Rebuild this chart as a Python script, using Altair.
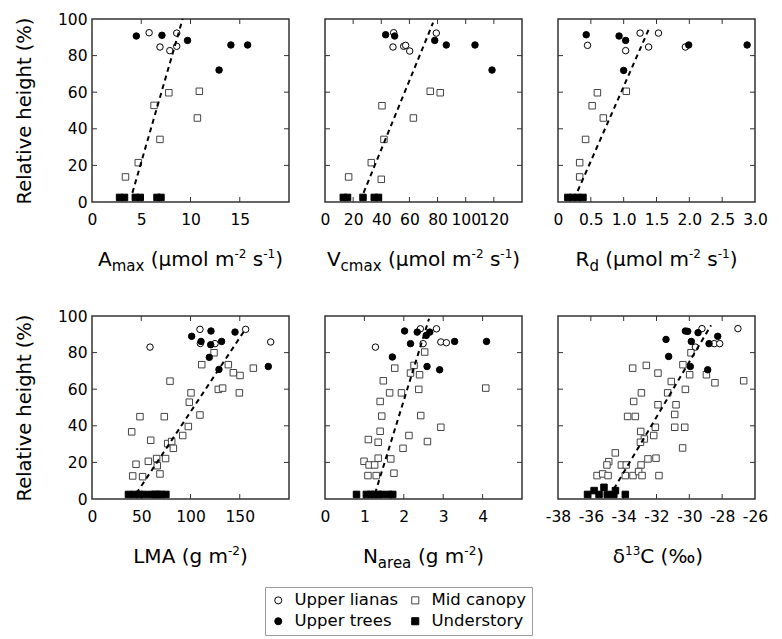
import altair as alt
import pandas as pd

GROUPS = ["Upper lianas", "Mid canopy", "Upper trees", "Understory"]

# ---------------- Amax ----------------
amax_lianas_x = [5.8, 8.6, 6.9, 7.9, 8.6]
amax_lianas_y = [92.5, 92.3, 84.7, 82.7, 85.1]
amax_mid_x = [3.4, 4.7, 6.3, 6.9, 7.8, 10.7, 10.9]
amax_mid_y = [13.7, 21.5, 52.8, 34.2, 59.7, 45.9, 60.5]
amax_trees_x = [4.5, 7.1, 9.7, 12.9, 14.1, 15.8]
amax_trees_y = [90.7, 91.1, 88.3, 72.1, 85.8, 85.8]
amax_under_x = [2.8, 3.3, 4.4, 4.9, 6.6, 7.0]
amax_under_y = [2.5, 2.5, 2.5, 2.5, 2.5, 2.5]
amax_fit_x = [4.1, 9.2]
amax_fit_y = [5, 100]

# ---------------- Vcmax ----------------
vcmax_lianas_x = [48.8, 48.3, 55.9, 57.3, 60.2, 79.1]
vcmax_lianas_y = [92.5, 84.7, 85.1, 85.6, 82.5, 92.3]
vcmax_mid_x = [16.8, 32.9, 40.0, 40.5, 41.9, 62.8, 74.8, 81.9]
vcmax_mid_y = [13.7, 21.5, 12.4, 52.6, 34.2, 45.9, 60.5, 59.7]
vcmax_trees_x = [43.1, 49.5, 78.0, 86.2, 106.6, 118.7]
vcmax_trees_y = [91.4, 90.7, 88.3, 85.8, 85.8, 72.1]
vcmax_under_x = [13, 16, 27, 35, 38]
vcmax_under_y = [2.5, 2.5, 2.5, 2.5, 2.5]
vcmax_fit_x = [27.4, 76.8]
vcmax_fit_y = [5, 98]

# ---------------- Rd ----------------
rd_lianas_x = [0.45, 1.03, 1.25, 1.38, 1.53, 1.94]
rd_lianas_y = [85.6, 82.7, 92.3, 84.7, 92.3, 84.7]
rd_mid_x = [0.33, 0.33, 0.42, 0.52, 0.60, 0.69, 1.04]
rd_mid_y = [13.7, 21.5, 34.2, 52.6, 59.7, 45.9, 60.5]
rd_trees_x = [0.43, 0.93, 1.03, 1.00, 1.99, 2.88]
rd_trees_y = [91.4, 90.7, 88.3, 71.9, 85.8, 85.8]
rd_under_x = [0.15, 0.22, 0.30, 0.38]
rd_under_y = [2.5, 2.5, 2.5, 2.5]
rd_fit_x = [0.30, 1.39]
rd_fit_y = [6, 95]

# ---------------- LMA ----------------
lma_lianas_x = [58.9, 109.6, 110.0, 124.9, 156.0, 181.4]
lma_lianas_y = [83.0, 92.7, 85.0, 84.9, 92.7, 85.8]
lma_mid_x = [40.3, 44.7, 41.3, 48.7, 51.4, 57.2, 59.6, 65.6, 66.3, 69.0,
             73.4, 74.7, 76.8, 80.9, 82.6, 79.2, 92.1, 97.8, 98.8, 100.5,
             109.6, 111.4, 123.9, 128.2, 132.6, 138.4, 143.5, 150.3, 149.6, 163.8]
lma_mid_y = [36.7, 19.0, 12.6, 45.0, 12.2, 20.6, 32.1, 22.1, 18.2, 13.7,
             45.0, 22.1, 30.3, 31.4, 27.7, 64.4, 34.7, 39.6, 52.9, 58.0,
             45.9, 73.4, 79.9, 59.9, 60.6, 73.4, 69.0, 67.5, 58.0, 71.5]
lma_trees_x = [101.2, 110.7, 120.8, 120.5, 119.1, 131.6, 128.9, 145.2, 179.0]
lma_trees_y = [88.9, 86.1, 91.8, 84.3, 77.4, 86.1, 70.8, 91.2, 72.4]
lma_under_x = [37, 43, 48, 53, 60, 64, 67, 70, 75]
lma_under_y = [2.5, 2.5, 2.5, 2.5, 2.5, 2.5, 2.5, 2.5, 2.5]
lma_fit_x = [45, 156]
lma_fit_y = [3, 93]

# ---------------- Narea ----------------
narea_lianas_x = [1.28, 2.42, 2.83, 2.49, 2.94, 3.08]
narea_lianas_y = [83.0, 93.0, 93.0, 84.9, 85.8, 85.4]
narea_mid_x = [2.53, 1.77, 2.26, 2.17, 2.40, 1.48, 1.64, 1.94, 2.38, 1.40,
               1.44, 2.43, 1.40, 1.10, 1.35, 2.13, 2.94, 1.98, 2.60, 0.99,
               1.12, 1.26, 1.35, 1.67, 1.09, 1.30, 1.75, 4.08]
narea_mid_y = [80.3, 71.5, 73.0, 68.8, 67.9, 64.6, 58.0, 58.0, 59.9, 53.3,
               45.3, 45.6, 37.0, 32.5, 31.0, 34.7, 39.2, 27.7, 31.4, 20.6,
               18.6, 18.6, 22.3, 21.9, 12.8, 12.8, 14.1, 60.6]
narea_trees_x = [2.02, 2.34, 2.66, 2.57, 2.17, 1.71, 2.59, 2.91, 3.29, 4.10]
narea_trees_y = [91.8, 91.2, 91.2, 89.4, 84.9, 77.6, 72.4, 70.6, 86.1, 86.1]
narea_under_x = [0.80, 1.05, 1.15, 1.25, 1.35, 1.45, 1.62, 1.72]
narea_under_y = [2.5, 2.5, 2.5, 2.5, 2.5, 2.5, 2.5, 2.5]
narea_fit_x = [1.27, 2.64]
narea_fit_y = [3, 98.5]

# ---------------- d13C ----------------
d13c_lianas_x = [-29.23, -29.63, -28.48, -28.15, -27.04]
d13c_lianas_y = [93.1, 83.0, 84.9, 84.9, 93.1]
d13c_mid_x = [-29.9, -30.39, -29.98, -33.45, -32.62, -31.91, -31.1, -28.96, -28.44, -26.69,
              -30.24, -32.92, -31.32, -33.39, -31.91, -30.81, -30.89, -33.76, -33.29, -32.07,
              -30.89, -30.28, -32.96, -32.74, -32.98, -32.17, -30.41, -34.51, -34.91, -35.02,
              -34.14, -33.84, -32.94, -32.52, -32.03, -35.62, -35.28, -34.95, -33.9, -33.43,
              -33.09, -32.88, -31.85]
d13c_mid_y = [79.9, 73.4, 67.9, 71.5, 73.0, 68.8, 64.2, 67.9, 63.5, 64.6,
              59.9, 58.0, 58.0, 53.3, 51.5, 51.5, 46.2, 45.1, 45.1, 39.2,
              39.2, 39.2, 36.9, 32.8, 31.0, 34.7, 27.9, 25.2, 20.4, 18.6,
              18.6, 18.6, 18.6, 21.9, 22.3, 12.8, 13.7, 12.8, 12.8, 12.8,
              15.0, 12.8, 12.8]
d13c_trees_x = [-30.24, -30.1, -29.47, -28.27, -31.42, -29.88, -28.8, -31.26, -29.94, -28.88]
d13c_trees_y = [91.8, 91.6, 90.9, 88.9, 87.2, 86.1, 84.9, 77.9, 72.4, 70.6]
d13c_under_x = [-36.2, -35.8, -35.5, -35.2, -35.0, -34.6, -34.5, -33.9]
d13c_under_y = [2.5, 4.6, 2.5, 6.4, 2.5, 2.5, 4.6, 2.5]
d13c_fit_x = [-34.6, -28.68]
d13c_fit_y = [5.5, 94.9]

Y_LABELS = [0, 20, 40, 60, 80, 100]
Y_TICKS = [20, 40, 60, 80]

W, H = 197, 183
FONT = "DejaVu Sans"

# DejaVu Sans advance widths (em)
DJV = {" ": 0.318, "(": 0.390, ")": 0.390, "-": 0.361, "%": 0.950, "A": 0.684,
       "C": 0.698, "L": 0.557, "M": 0.863, "N": 0.748, "R": 0.695, "V": 0.684, "a": 0.613,
       "c": 0.550, "d": 0.635, "e": 0.615, "g": 0.635, "l": 0.278, "m": 0.974, "o": 0.612,
       "r": 0.411, "s": 0.521, "x": 0.592, "μ": 0.636, "δ": 0.612, "‰": 1.20}
SEG_STYLE = {"n": (20, 0), "sub": (15, 5), "sup": (12, -8)}


def seg_width(t, kind):
    fs = SEG_STYLE[kind][0]
    return sum(DJV.get(ch, 0.636) for ch in t) * fs


UNIT_1 = [(" (μmol m", "n"), ("-2", "sup"), (" s", "n"), ("-1", "sup"), (")", "n")]
PANELS = [
    dict(k="amax", dom=[0, 20], labels=[0, 5, 10, 15], ticks=[5, 10, 15], fmt=None, showy=True,
         title=[("A", "n"), ("max", "sub")] + UNIT_1),
    dict(k="vcmax", dom=[0, 140], labels=[0, 20, 40, 60, 80, 100, 120], ticks=[20, 40, 60, 80, 100, 120],
         fmt=None, showy=False, title=[("V", "n"), ("cmax", "sub")] + UNIT_1),
    dict(k="rd", dom=[0, 3], labels=[0, 0.5, 1.0, 1.5, 2.0, 2.5, 3.0], ticks=[0.5, 1.0, 1.5, 2.0, 2.5],
         fmt="datum.value == 0 ? '0' : format(datum.value, '.1f')", showy=False,
         title=[("R", "n"), ("d", "sub")] + UNIT_1),
    dict(k="lma", dom=[0, 200], labels=[0, 50, 100, 150], ticks=[50, 100, 150], fmt=None, showy=True,
         title=[("LMA (g m", "n"), ("-2", "sup"), (")", "n")]),
    dict(k="narea", dom=[0, 5], labels=[0, 1, 2, 3, 4], ticks=[1, 2, 3, 4], fmt=None, showy=False,
         title=[("N", "n"), ("area", "sub"), (" (g m", "n"), ("-2", "sup"), (")", "n")]),
    dict(k="d13c", dom=[-38, -26], labels=[-38, -36, -34, -32, -30, -28, -26],
         ticks=[-36, -34, -32, -30, -28], fmt="toString(datum.value)", showy=False,
         title=[("δ", "n"), ("13", "sup"), ("C (‰)", "n")]),
]

SRC = globals()

legend = alt.Legend(orient="none", legendX=173, legendY=568, columns=2, direction="horizontal",
                    title=None, labelFont=FONT, labelFontSize=16.5, labelColor="black",
                    symbolSize=50, symbolStrokeWidth=1, strokeColor="#9a9a9a",
                    fillColor="white", padding=5, columnPadding=8, rowPadding=4,
                    labelOffset=8)
shape_scale = alt.Scale(domain=GROUPS, range=["circle", "square", "circle", "square"])
fill_scale = alt.Scale(domain=GROUPS, range=["white", "white", "black", "black"])
stroke_scale = alt.Scale(domain=GROUPS, range=["black", "#444444", "black", "black"])


def make_panel(p):
    k = p["k"]
    rows = []
    for g, suf in [("Mid canopy", "mid"), ("Upper lianas", "lianas"), ("Upper trees", "trees"), ("Understory", "under")]:
        for xv, yv in zip(SRC[f"{k}_{suf}_x"], SRC[f"{k}_{suf}_y"]):
            rows.append({"x": xv, "y": yv, "group": g})
    df = pd.DataFrame(rows)
    fit = pd.DataFrame({"x": SRC[f"{k}_fit_x"], "y": SRC[f"{k}_fit_y"]})

    ax_kw = dict(values=p["labels"], title=None, ticks=False, domain=False, grid=False,
                 labelFont=FONT, labelFontSize=15.5, labelPadding=10, labelOverlap=False,
                 labelFlush=False, labelColor="black")
    if p["fmt"]:
        ax_kw["labelExpr"] = p["fmt"]
    x_enc = alt.X("x:Q", scale=alt.Scale(domain=p["dom"], nice=False, zero=False), axis=alt.Axis(**ax_kw))
    if p["showy"]:
        y_axis = alt.Axis(values=Y_LABELS, title="Relative height (%)", ticks=False, domain=False,
                          grid=False, labelFont=FONT, labelFontSize=15.5, labelPadding=5,
                          labelColor="black", titleFont=FONT, titleFontSize=19.5,
                          titleFontWeight="normal", titleColor="black", titlePadding=23)
        y_enc = alt.Y("y:Q", scale=alt.Scale(domain=[0, 100], nice=False), axis=y_axis)
    else:
        y_enc = alt.Y("y:Q", scale=alt.Scale(domain=[0, 100], nice=False), axis=None)

    xt = pd.DataFrame({"x": p["ticks"]})
    yt = pd.DataFrame({"y": Y_TICKS})
    tick_kw = dict(color="#333333", strokeWidth=1)
    layers = [
        alt.Chart(xt).mark_rule(**tick_kw).encode(x=x_enc, y=alt.value(H), y2=alt.value(H - 5)),
        alt.Chart(xt).mark_rule(**tick_kw).encode(x=x_enc, y=alt.value(0), y2=alt.value(5)),
        alt.Chart(yt).mark_rule(**tick_kw).encode(y=y_enc, x=alt.value(0), x2=alt.value(5)),
        alt.Chart(yt).mark_rule(**tick_kw).encode(y=y_enc, x=alt.value(W - 5), x2=alt.value(W)),
        alt.Chart(df).mark_point(filled=True, size=42, strokeWidth=1, opacity=1).encode(
            x=x_enc, y=y_enc,
            shape=alt.Shape("group:N", scale=shape_scale, legend=legend),
            fill=alt.Fill("group:N", scale=fill_scale, legend=legend),
            stroke=alt.Stroke("group:N", scale=stroke_scale, legend=legend),
        ),
        alt.Chart(fit).mark_line(color="black", strokeWidth=2, strokeDash=[5, 4]).encode(x=x_enc, y=y_enc),
    ]
    total = sum(seg_width(t, kd) for t, kd in p["title"])
    cur = W / 2 - total / 2
    for t, kd in p["title"]:
        fs, dy = SEG_STYLE[kd]
        shown = t.lstrip(" ")
        lead = seg_width(t[: len(t) - len(shown)], kd)
        layers.append(
            alt.Chart(pd.DataFrame({"t": [shown]})).mark_text(
                align="left", baseline="alphabetic", font=FONT, fontSize=fs, dy=dy, color="black"
            ).encode(x=alt.value(cur + lead), y=alt.value(H + 64), text="t:N")
        )
        cur += seg_width(t, kd)
    return alt.layer(*layers).properties(width=W, height=H)


charts = [make_panel(p) for p in PANELS]
chart = alt.concat(*charts, columns=3, spacing={"row": 114, "column": 36}, bounds="flush").properties(
    padding={"left": 5, "top": 3, "right": 5, "bottom": 5}
).configure_view(stroke="#333333", strokeWidth=1.5).configure_axis(grid=False)

chart.save("out.html", embed_options={"renderer": "svg", "actions": False})
